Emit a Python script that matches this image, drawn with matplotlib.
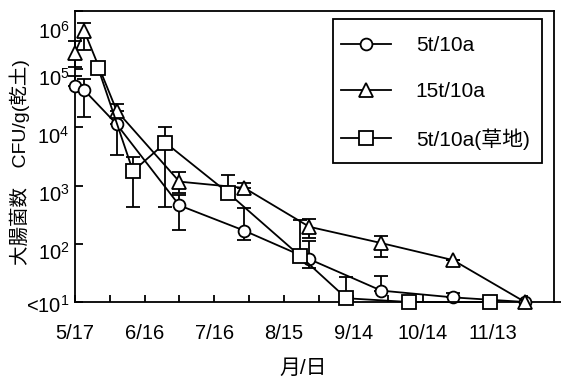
import matplotlib
matplotlib.use("Agg")
import matplotlib.pyplot as plt
import matplotlib.transforms as mtransforms
from matplotlib.patches import Rectangle
from matplotlib.lines import Line2D
from matplotlib.ticker import FixedLocator

plt.rcParams['font.family'] = ['Liberation Sans', 'Noto Sans CJK JP', 'DejaVu Sans']
plt.rcParams['mathtext.fontset'] = 'custom'
plt.rcParams['mathtext.rm'] = 'Liberation Sans'

# days after 5/17
days_a = [0, 4, 18, 45, 73, 101, 132, 163, 194]
cfu_a = [5.2e4, 4.35e4, 1.13e4, 457, 168, 54.5, 15.7, 12, 10]
hi_a = [7.6e4, 6.7e4, 1.13e4, 700, 417, 110, 28.4, 14.5, 10]
lo_a = [5.2e4, 1.53e4, 3420, 170, 114, 38.5, 15.7, 12, 10]

days_b = [0, 4, 18, 45, 73, 101, 132, 163, 194]
cfu_b = [1.91e5, 4.52e5, 1.92e4, 1170, 912, 196, 103, 52.4, 10]
hi_b = [3.08e5, 6.2e5, 2.56e4, 1700, 1130, 264, 134, 52.4, 10]
lo_b = [1.08e5, 2.15e5, 1.92e4, 757, 912, 128, 60, 52.4, 10]

days_c = [10, 25, 39, 66, 97, 117, 144, 179]
cfu_c = [1.04e5, 1770, 5450, 748, 62, 11.6, 10, 10]
hi_c = [1.04e5, 3080, 1.03e4, 1510, 259, 26.7, 12, 10]
lo_c = [1.04e5, 430, 430, 748, 62, 11.6, 10, 10]

labels = ['5t/10a', '15t/10a', '5t/10a(草地)']
date_ticks = [0, 30, 60, 90, 120, 150, 180]
date_labels = ['5/17', '6/16', '7/16', '8/15', '9/14', '10/14', '11/13']
minor_ticks = [15, 45, 75, 105, 135, 165, 195]
y_ticks = [1e1, 1e2, 1e3, 1e4, 1e5, 1e6]
y_labels = [r'<$\mathregular{10^1}$', r'$\mathregular{10^2}$', r'$\mathregular{10^3}$',
            r'$\mathregular{10^4}$', r'$\mathregular{10^5}$', r'$\mathregular{10^6}$']

fig = plt.figure(figsize=(5.61, 3.78), dpi=100)
ax = fig.add_axes([75/561, 1-302/378, 479/561, 291/378])

series = [(days_a, cfu_a, hi_a, lo_a, 'o', 8.5),
          (days_b, cfu_b, hi_b, lo_b, '^', 9.5),
          (days_c, cfu_c, hi_c, lo_c, 's', 10.5)]
for (d, v, hi, lo, m, ms), lab in zip(series, labels):
    err = [[a - b for a, b in zip(v, lo)], [b - a for a, b in zip(v, hi)]]
    ax.errorbar(d, v, yerr=err, fmt='none', ecolor='black', elinewidth=1.3,
                capsize=5, capthick=1.3, clip_on=False, zorder=2)
    ax.plot(d, v, color='black', lw=1.3, marker=m, ms=ms, mfc='white',
            mec='black', mew=1.3, label=lab, clip_on=False, zorder=3)

ax.set_yscale('log')
ax.set_ylim(10, 1e6)
ax.set_xlim(0, 206.5)
ax.yaxis.set_major_locator(FixedLocator(y_ticks))
ax.set_yticklabels(y_labels)
ax.yaxis.set_minor_locator(FixedLocator([]))
ax.set_xticks(date_ticks)
ax.set_xticklabels(date_labels)
ax.set_xticks(minor_ticks, minor=True)

ax.tick_params(axis='both', which='both', direction='in', labelsize=14.5, width=1.3)
ax.tick_params(axis='y', which='major', length=6, pad=4)
ax.tick_params(axis='x', which='both', length=5, pad=16)
# labels sit a little below their ticks in the original
shifts = [-2, -7, -7, -7, -8, -19]
for lbl, s in zip(ax.get_yticklabels(), shifts):
    lbl.set_transform(lbl.get_transform() + mtransforms.ScaledTranslation(0, s/100, fig.dpi_scale_trans))

for s in ax.spines.values():
    s.set_linewidth(1.3)
# bottom axis runs on past the right frame
fig.add_artist(Line2D([554/561, 1.0], [1-302/378, 1-302/378], color='black', lw=1.3))

ax.set_ylabel('大腸菌数　CFU/g(乾土)', fontsize=14)
ax.yaxis.set_label_coords(-0.093, 0.48)
ax.set_xlabel('月/日', fontsize=15)
ax.xaxis.set_label_coords(0.476, -0.197)

# legend frame drawn separately so the padding can be matched
ax.add_patch(Rectangle((0.539, 0.478), 0.436, 0.4945, transform=ax.transAxes,
                       fill=False, edgecolor='black', lw=1.3, zorder=5))
leg = ax.legend(loc='upper left', bbox_to_anchor=(0.555, 0.914), fontsize=15,
                frameon=False, handlelength=2.4, handletextpad=1.2,
                labelspacing=1.3, borderpad=0, borderaxespad=0)

fig.savefig('out.png', dpi=100)
